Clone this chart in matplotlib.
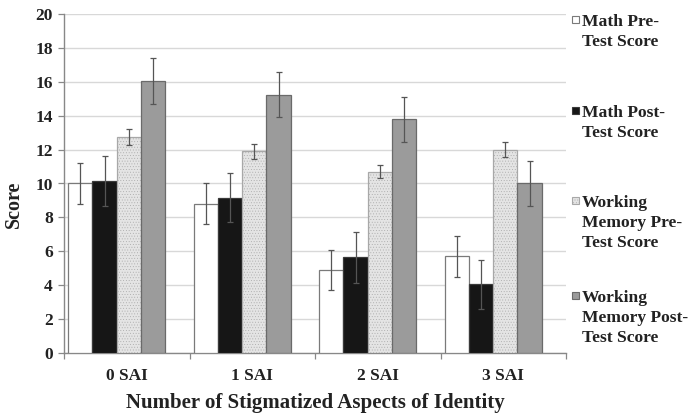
import matplotlib
matplotlib.use("Agg")
import matplotlib.pyplot as plt
import matplotlib.patches as mpatches
import numpy as np

categories = ["0 SAI", "1 SAI", "2 SAI", "3 SAI"]
series_names = ["Math Pre-\nTest Score", "Math Post-\nTest Score",
                "Working\nMemory Pre-\nTest Score", "Working\nMemory Post-\nTest Score"]
math_pre = [10.0, 8.8, 4.9, 5.7]
math_pre_err = [1.2, 1.2, 1.2, 1.2]
math_post = [10.15, 9.15, 5.65, 4.05]
math_post_err = [1.5, 1.45, 1.5, 1.45]
wm_pre = [12.75, 11.9, 10.7, 12.0]
wm_pre_err = [0.45, 0.45, 0.4, 0.43]
wm_post = [16.05, 15.25, 13.8, 10.0]
wm_post_err = [1.35, 1.35, 1.33, 1.35]
y_ticks = [0, 2, 4, 6, 8, 10, 12, 14, 16, 18, 20]

plt.rcParams['font.family'] = ['Liberation Serif', 'DejaVu Serif']
plt.rcParams['hatch.linewidth'] = 0.3

fig = plt.figure(figsize=(6.9, 4.15), dpi=100)
ax = fig.add_axes([64/690, 1-353/415, (566-64)/690, (353-14)/415])

values = [math_pre, math_post, wm_pre, wm_post]
errs = [math_pre_err, math_post_err, wm_pre_err, wm_post_err]
faces = ["#ffffff", "#161616", "#e4e4e4", "#9b9b9b"]
edges = ["#7a7a7a", "#3a3a3a", "#a8a8a8", "#6a6a6a"]
hatches = [None, None, "......", None]

x = np.arange(len(categories))
w = 0.193
shift = -0.08
for j in range(4):
    pos = x + shift + (j - 1.5) * w
    ax.bar(pos, values[j], width=w, color=faces[j], edgecolor=edges[j],
           linewidth=0.9, hatch=hatches[j], zorder=3)
    ax.errorbar(pos, values[j], yerr=errs[j], fmt='none', ecolor="#555555",
                elinewidth=0.9, capsize=2.2, capthick=0.9, zorder=4)

ax.set_xlim(-0.5, len(categories) - 0.5)
ax.set_ylim(0, 20)
ax.set_yticks(y_ticks)
ax.set_xticks(x)
ax.set_xticklabels(categories)
ax.set_xticks(np.arange(len(categories) + 1) - 0.5, minor=True)
ax.tick_params(axis='x', which='major', length=0, pad=11)
ax.tick_params(axis='x', which='minor', length=4, color="#888888", width=0.9)
ax.tick_params(axis='y', length=4, color="#888888", width=0.9, pad=4)
for lab in ax.get_xticklabels() + ax.get_yticklabels():
    lab.set_fontweight('bold')
    lab.set_fontsize(12.5)
    lab.set_color("#222222")

ax.grid(axis='y', color="#d8d8d8", linewidth=1.0, zorder=0)
ax.set_axisbelow(True)
for s in ['top', 'right']:
    ax.spines[s].set_visible(False)
for s in ['left', 'bottom']:
    ax.spines[s].set_color("#888888")
    ax.spines[s].set_linewidth(1.0)

ax.set_ylabel("Score", fontsize=14.5, fontweight='bold', color="#222222")
ax.yaxis.set_label_coords(-0.08, 0.44)
ax.set_xlabel("Number of Stigmatized Aspects of Identity", fontsize=15,
              fontweight='bold', color="#222222", labelpad=6)

# legend
legend_tops = [17, 108, 198, 293]
for j in range(4):
    top = legend_tops[j]
    fig.add_artist(mpatches.Rectangle((572/690, 1-(top+6)/415), 7/690, 7/415,
                                      transform=fig.transFigure, facecolor=faces[j],
                                      edgecolor=edges[j], linewidth=0.8,
                                      hatch=hatches[j]))
    fig.text(582/690, 1-(top-3)/415, series_names[j], ha='left', va='top',
             fontsize=12.6, fontweight='bold', color="#222222", linespacing=1.33)

fig.savefig("out.png", dpi=100)
